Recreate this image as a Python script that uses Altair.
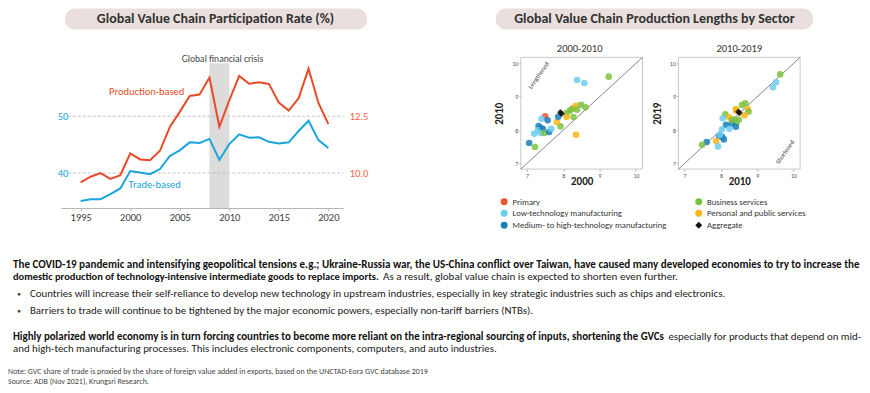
import altair as alt
import pandas as pd

FONT = "Carlito, 'Liberation Sans Narrow', Lato, sans-serif"

# ---------------- data ----------------
years = list(range(1995, 2021))
trade_based = [35.1, 35.4, 35.4, 36.3, 37.3, 40.35, 40.1, 39.8, 40.7, 43.0, 44.0, 45.4, 45.3,
               46.0, 42.3, 45.1, 46.8, 46.2, 46.3, 45.5, 45.2, 45.4, 47.4, 49.2, 45.8, 44.4]
production_based = [9.59, 9.84, 10.0, 9.74, 9.91, 10.86, 10.6, 10.56, 10.98, 12.03, 12.69, 13.39, 13.45,
                    14.2, 12.03, 13.2, 14.27, 13.93, 13.99, 13.92, 13.1, 12.75, 13.29, 14.59, 13.08, 12.15]
crisis_years = [2008, 2010]
left_ticks = [40, 50]
right_ticks = [10.0, 12.5]
year_ticks = [1995, 2000, 2005, 2010, 2015, 2020]

P = "Primary"
L = "Low-technology manufacturing"
M = "Medium- to high-technology manufacturing"
B = "Business services"
S = "Personal and public services"
A = "Aggregate"
sector_order = [P, L, M, B, S, A]
sector_colors = ["#e8542d", "#6dcdf0", "#1b80b9", "#7cc242", "#fbb418", "#111111"]
sector_shapes = ["circle", "circle", "circle", "circle", "circle", "diamond"]

p1_sector = [L, L, B, P, L, M, L, M, M, L, M, L, B, M, L, M, B, B, S, M, B, S, B, S, S, B, B, B, B, S, B, A, A]
p1_x = [8.38, 8.58, 9.25, 7.50, 7.40, 7.57, 7.20, 7.32, 7.37, 7.30, 7.44, 7.38, 7.48, 7.61, 7.67, 7.06, 7.22,
        7.92, 7.82, 7.86, 8.09, 8.09, 8.18, 8.28, 8.35, 8.38, 8.49, 8.61, 8.28, 8.35, 8.23, 7.92, 7.95]
p1_y = [9.50, 9.41, 9.60, 8.41, 8.34, 8.29, 7.89, 8.12, 8.07, 7.99, 8.03, 7.91, 7.91, 7.94, 8.04, 7.61, 7.49,
        8.11, 8.24, 8.40, 8.51, 8.39, 8.58, 8.66, 8.73, 8.61, 8.76, 8.68, 8.39, 7.86, 8.63, 8.53, 8.49]

p2_sector = [B, L, L, B, B, S, S, S, B, S, B, S, L, B, B, B, M, M, M, L, L, M, M, M, L, S, L, M, B, B, A, A]
p2_x = [9.63, 9.52, 9.43, 8.67, 8.58, 8.41, 8.42, 8.74, 8.76, 8.65, 8.12, 8.23, 8.05, 8.39, 8.49, 8.43, 8.14,
        8.30, 8.41, 8.23, 8.03, 7.95, 8.03, 8.08, 7.97, 7.87, 7.92, 7.61, 7.48, 8.30, 8.51, 8.48]
p2_y = [9.67, 9.43, 9.28, 8.80, 8.75, 8.63, 8.58, 8.63, 8.55, 8.44, 8.47, 8.38, 8.35, 8.32, 8.31, 8.22, 8.16,
        8.19, 8.10, 8.04, 8.02, 7.82, 7.80, 7.72, 7.85, 7.67, 7.51, 7.64, 7.56, 8.30, 8.51, 8.55]
axis_ticks = [7, 8, 9, 10]
axis_lims = [6.83, 10.18]

title_left = "Global Value Chain Participation Rate (%)"
title_right = "Global Value Chain Production Lengths by Sector"
para1_bold_a = ("The COVID-19 pandemic and intensifying geopolitical tensions e.g.; Ukraine-Russia war, "
                "the US-China conflict over Taiwan, have caused many developed economies to try to increase the")
para1_bold_b = "domestic production of technology-intensive intermediate goods to replace imports."
para1_norm_b = "As a result, global value chain is expected to shorten even further."
bullets = ["Countries will increase their self-reliance to develop new technology in upstream industries, "
           "especially in key strategic industries such as chips and electronics.",
           "Barriers to trade will continue to be tightened by the major economic powers, "
           "especially non-tariff barriers (NTBs)."]
para2_bold = ("Highly polarized world economy is in turn forcing countries to become more reliant on the "
              "intra-regional sourcing of inputs, shortening the GVCs")
para2_norm = "especially for products that depend on mid-"
para2_line2 = "and high-tech manufacturing processes. This includes electronic components, computers, and auto industries."
note = "Note: GVC share of trade is proxied by the share of foreign value added in  exports, based on the UNCTAD-Eora GVC database 2019"
source = "Source: ADB (Nov 2021),  Krungsri Research."

# ---------------- styles ----------------
BLUE = "#1aa5da"
RED = "#e94b27"
RED_LBL = "#ee6447"
W, H = 856, 380


def txt(s, x, y, size, color="#222222", weight="normal", align="left", angle=0, baseline="middle"):
    return alt.Chart(pd.DataFrame({"t": [s]})).mark_text(
        align=align, baseline=baseline, fontSize=size, fontWeight=weight, color=color,
        font=FONT, angle=angle
    ).encode(x=alt.value(x), y=alt.value(y), text="t:N")


def pill(x0, x1, y0, y1):
    return alt.Chart(pd.DataFrame({"k": [0]})).mark_rect(
        cornerRadius=10, color="#e9e0de"
    ).encode(x=alt.value(x0), x2=alt.value(x1), y=alt.value(y0), y2=alt.value(y1))


layers = []
# title pills
layers += [pill(57, 360, 0, 21), txt(title_left, 208, 10.5, 14, "#333333", "bold", "center")]
layers += [pill(489, 807, 0, 21), txt(title_right, 648, 10.5, 14, "#333333", "bold", "center")]

# ---------------- line chart ----------------
LX = alt.Scale(domain=[1993, 2021.5], range=[53, 336], nice=False, zero=False)
LYL = alt.Scale(domain=[33.86, 59.30], range=[200, 55], nice=False, zero=False)
LYR = alt.Scale(domain=[8.465, 14.825], range=[200, 55], nice=False, zero=False)

df_line = pd.DataFrame({"year": years, "trade": trade_based, "production": production_based})
df_band = pd.DataFrame({"x0": [crisis_years[0]], "x1": [crisis_years[1]],
                        "y0": [LYL.domain[0]], "y1": [LYL.domain[1]]})
df_grid = pd.DataFrame({"y": left_ticks, "x0": [1993.7] * 2, "x1": [2021.5] * 2})

layers.append(alt.Chart(df_band).mark_rect(color="#dcdcdc").encode(
    x=alt.X("x0:Q", scale=LX, axis=None), x2="x1:Q",
    y=alt.Y("y0:Q", scale=LYL, axis=None), y2="y1:Q"))
layers.append(alt.Chart(df_grid).mark_rule(color="#bdbdbd", strokeDash=[3, 2], strokeWidth=0.9).encode(
    x=alt.X("x0:Q", scale=LX, axis=None), x2="x1:Q",
    y=alt.Y("y:Q", scale=LYL, axis=None)))
layers.append(alt.Chart(df_line).mark_line(color=BLUE, strokeWidth=2).encode(
    x=alt.X("year:Q", scale=LX, axis=alt.Axis(
        orient="bottom", offset=-(H - 200), values=year_ticks, format="d", title=None,
        domainColor="#b5b5b5", tickColor="#b5b5b5", tickSize=3, labelFontSize=10.5,
        labelColor="#404040", labelPadding=2, labelFont=FONT, grid=False)),
    y=alt.Y("trade:Q", scale=LYL, axis=alt.Axis(
        orient="left", offset=-62, values=left_ticks, title=None, domain=False, ticks=False,
        tickSize=0, labelPadding=2, labelColor=BLUE, labelFontSize=10.5, labelFont=FONT, grid=False))))
layers.append(alt.Chart(df_line).mark_line(color=RED, strokeWidth=2).encode(
    x=alt.X("year:Q", scale=LX, axis=None),
    y=alt.Y("production:Q", scale=LYR, axis=alt.Axis(
        orient="right", offset=-(W - 340), values=right_ticks, format=".1f", title=None,
        domain=False, ticks=False, tickSize=0, labelPadding=2, labelColor=RED_LBL,
        labelFontSize=10.5, labelFont=FONT, grid=False))))
layers += [txt("Global financial crisis", 215, 51, 9.6, "#444444", align="center"),
           txt("Production-based", 139, 84, 10.5, RED, align="center"),
           txt("Trade-based", 147, 177, 10.5, BLUE, align="center")]

# ---------------- scatter panels ----------------
SY = alt.Scale(domain=axis_lims, range=[161, 49], nice=False, zero=False)
color_scale = alt.Scale(domain=sector_order, range=sector_colors)
shape_scale = alt.Scale(domain=sector_order, range=sector_shapes)
legend = alt.Legend(title=None, orient="none", legendX=493, legendY=189, columns=2,
                    columnPadding=27, rowPadding=2, symbolSize=48, labelFontSize=8.7,
                    labelColor="#333333", labelFont=FONT, labelLimit=400, labelOffset=4,
                    symbolStrokeWidth=0, symbolOpacity=1)
df_lims = pd.DataFrame({"a": [axis_lims[0]], "b": [axis_lims[1]]})
df_diag = pd.DataFrame({"v": axis_lims})


def panel(x0, sec, xs, ys, xtitle, ytitle, show_legend):
    SX = alt.Scale(domain=axis_lims, range=[x0, x0 + 122], nice=False, zero=False)
    out = []
    out.append(alt.Chart(df_lims).mark_rect(fillOpacity=0, stroke="#c8c8c8", strokeWidth=1).encode(
        x=alt.X("a:Q", scale=SX, axis=None), x2="b:Q",
        y=alt.Y("a:Q", scale=SY, axis=None), y2="b:Q"))
    out.append(alt.Chart(df_diag).mark_line(color="#666666", strokeWidth=0.8).encode(
        x=alt.X("v:Q", scale=SX, axis=None), y=alt.Y("v:Q", scale=SY, axis=None)))
    df = pd.DataFrame({"sector": sec, "x": xs, "y": ys})
    lg = legend if show_legend else None
    out.append(alt.Chart(df).mark_point(filled=True, size=44, opacity=0.85, strokeWidth=0).encode(
        x=alt.X("x:Q", scale=SX, axis=alt.Axis(
            orient="bottom", offset=-(H - 161), values=axis_ticks, domain=False, tickSize=2,
            tickColor="#aaaaaa", labelFontSize=6, labelColor="#555555", labelPadding=1,
            labelFont=FONT, title=xtitle, titleFontSize=11, titleFontWeight="bold",
            titleColor="#222222", titleFont=FONT, titlePadding=-3, grid=False)),
        y=alt.Y("y:Q", scale=SY, axis=alt.Axis(
            orient="left", offset=-x0, values=axis_ticks, domain=False, tickSize=2,
            tickColor="#aaaaaa", labelFontSize=6, labelColor="#555555", labelPadding=1,
            labelFont=FONT, title=ytitle, titleFontSize=11, titleFontWeight="bold",
            titleColor="#222222", titleFont=FONT, titlePadding=7, grid=False)),
        color=alt.Color("sector:N", scale=color_scale, legend=lg),
        shape=alt.Shape("sector:N", scale=shape_scale, legend=lg)))
    return out


layers += panel(514, p1_sector, p1_x, p1_y, "2000", "2010", True)
layers += panel(672, p2_sector, p2_x, p2_y, "2010", "2019", True)
layers += [txt("2000-2010", 573, 41, 10.5, "#333333", align="center"),
           txt("2010-2019", 733, 41, 10.5, "#333333", align="center"),
           txt("Lengthened", 532, 67, 6.5, "#444444", align="center", angle=305),
           txt("Shortened", 779, 144, 6.5, "#444444", align="center", angle=305)]

# ---------------- paragraph text ----------------
layers += [txt(para1_bold_a, 5, 257, 11.1, "#111111", "bold"),
           txt(para1_bold_b, 5, 269.5, 10.5, "#111111", "bold"),
           txt(para1_norm_b, 376, 269.5, 11.1, "#222222"),
           txt("\u25cf", 11, 286.5, 6, "#444444", align="center"),
           txt(bullets[0], 22, 286.5, 10.9, "#222222"),
           txt("\u25cf", 11, 303.5, 6, "#444444", align="center"),
           txt(bullets[1], 22, 303.5, 10.9, "#222222"),
           txt(para2_bold, 5, 329, 10.95, "#111111", "bold"),
           txt(para2_norm, 662, 329, 10.9, "#222222"),
           txt(para2_line2, 5, 341, 10.9, "#222222"),
           txt(note, 0, 364, 8, "#444444"),
           txt(source, 0, 374, 8, "#444444")]

chart = alt.layer(*layers).resolve_scale(
    x="independent", y="independent"
).properties(
    width=W, height=H, padding=0, autosize=alt.AutoSizeParams(type="none"), background="white"
).configure_view(stroke=None)

chart.save("out.html", embed_options={"renderer": "svg", "actions": False})
